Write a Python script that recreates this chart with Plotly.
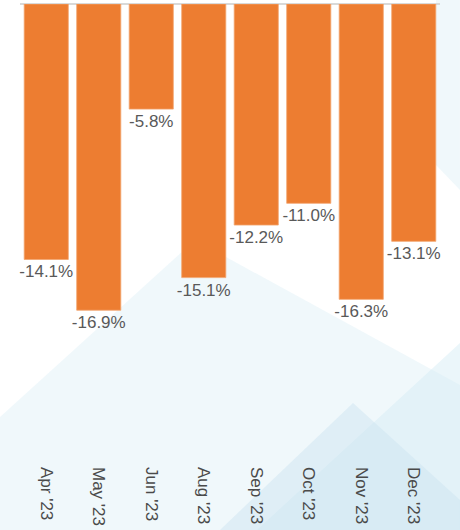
import plotly.graph_objects as go

months = ["Apr '23", "May '23", "Jun '23", "Aug '23", "Sep '23", "Oct '23", "Nov '23", "Dec '23"]
changes = [-14.1, -16.9, -5.8, -15.1, -12.2, -11.0, -16.3, -13.1]
labels = [f"{v:.1f}%" for v in changes]

W, H = 460, 530
ML, MR, MT, MB = 20, 20, 4, 73
PW, PH = W - ML - MR, H - MT - MB


def P(px, py):
    return (px - ML) / PW, (H - MB - py) / PH


def poly(points, color, opacity):
    pts = [P(x, y) for x, y in points]
    path = "M " + " L ".join(f"{x:.4f},{y:.4f}" for x, y in pts) + " Z"
    return dict(type="path", path=path, xref="paper", yref="paper",
                fillcolor=color, opacity=opacity, line=dict(width=0), layer="below")


shapes = [
    poly([(0, 417), (195, 240), (460, 385), (460, 530), (0, 530)], "#eaf5fa", 0.7),
    poly([(436, 0), (460, 0), (460, 190), (436, 165)], "#eaf5fa", 0.7),
    poly([(460, 343), (257, 530), (460, 530)], "#d3eaf5", 0.45),
    poly([(353, 403), (220, 530), (460, 530), (460, 500)], "#c9e2f0", 0.45),
]

fig = go.Figure(go.Bar(
    x=months, y=changes, text=labels, textposition="outside",
    constraintext="none", cliponaxis=False,
    marker=dict(color="#ED7D31", line=dict(color="#f3a46f", width=0.8)),
    textfont=dict(family="Liberation Sans, Arial, sans-serif", size=17, color="#595959"),
))

fig.update_layout(
    width=W, height=H,
    margin=dict(l=ML, r=MR, t=MT, b=MB, autoexpand=False),
    paper_bgcolor="white", plot_bgcolor="rgba(0,0,0,0)",
    bargap=0.16, showlegend=False, shapes=shapes,
    font=dict(family="Liberation Sans, Arial, sans-serif"),
)
fig.update_xaxes(tickangle=90, showgrid=False, showline=False, ticks="", automargin=False,
                 ticklabelstandoff=9,
                 tickfont=dict(size=17, color="#4a4a4a"))
fig.update_yaxes(range=[-25, 0], visible=True, showticklabels=False, showgrid=False,
                 automargin=False,
                 zeroline=True, zerolinecolor="#d9d9d9", zerolinewidth=2, ticks="")

fig.write_html("out.html", config={"displayModeBar": False},
               post_script="document.body.style.margin='0';document.body.style.overflow='hidden';")
